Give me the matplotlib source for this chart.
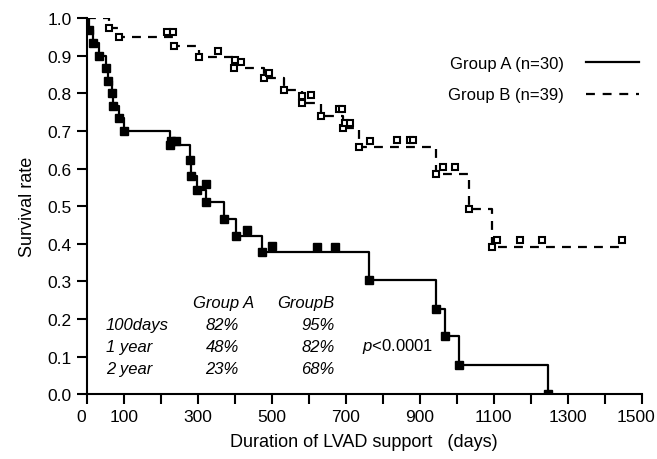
import numpy as np
import matplotlib
matplotlib.use('Agg')
import matplotlib.pyplot as plt
import matplotlib.transforms as mtransforms
from matplotlib.lines import Line2D

plt.rcParams['font.family'] = ['Liberation Sans', 'DejaVu Sans']
plt.rcParams['mathtext.fontset'] = 'custom'
plt.rcParams['mathtext.rm'] = 'Liberation Sans'
plt.rcParams['mathtext.it'] = 'Liberation Sans:italic'

# Group A (n=30): step times (days) and survival after each step
a_days = [0, 5, 18, 33, 51, 57, 67, 70, 88, 101, 225, 279, 283, 297, 322, 371, 403, 474, 762, 944, 969, 1005, 1245]
a_surv = [1.0, 0.967, 0.933, 0.900, 0.867, 0.833, 0.800, 0.767, 0.733, 0.700, 0.663, 0.622, 0.581,
          0.543, 0.510, 0.465, 0.421, 0.377, 0.303, 0.226, 0.155, 0.078, 0.0]
# group A censored marks
a_cens_days = [229, 240, 322, 432, 501, 621, 671]
a_cens_surv = [0.674, 0.674, 0.559, 0.437, 0.393, 0.392, 0.392]

# Group B (n=39)
b_days = [0, 60, 88, 236, 303, 399, 479, 533, 582, 632, 692, 735, 945, 1032, 1096, 1440]
b_surv = [1.0, 0.974, 0.951, 0.925, 0.897, 0.867, 0.840, 0.808, 0.774, 0.740, 0.709, 0.656,
          0.585, 0.492, 0.390, 0.390]
b_cens_days = [218, 234, 356, 401, 416, 493, 582, 605, 682, 691, 697, 711, 765, 837, 873, 882,
               963, 995, 1109, 1170, 1229, 1445]
b_cens_surv = [0.964, 0.964, 0.913, 0.889, 0.884, 0.853, 0.793, 0.796, 0.758, 0.758, 0.722, 0.722,
               0.674, 0.676, 0.676, 0.676, 0.605, 0.605, 0.41, 0.41, 0.41, 0.41]

x_ticks = list(range(0, 1501, 100))
x_labels = ['0', '100', '', '300', '', '500', '', '700', '', '900', '', '1100', '', '1300', '', '1500']
y_ticks = [0.0, 0.1, 0.2, 0.3, 0.4, 0.5, 0.6, 0.7, 0.8, 0.9, 1.0]

rows = ['100days', '1 year', '2 year']
rate_a = ['82%', '48%', '23%']
rate_b = ['95%', '82%', '68%']

fig = plt.figure(figsize=(6.57, 4.6), dpi=100)
ax = fig.add_axes([0.132, 0.141, 0.845, 0.8175])

dash = (0, (4, 3.2))
ax.step(a_days, a_surv, where='post', color='black', lw=1.6)
ax.plot(a_days[1:], a_surv[1:], 's', color='black', ms=5.3, lw=0)
ax.plot(a_cens_days, a_cens_surv, 's', color='black', ms=5.3, lw=0)

ax.step(b_days, b_surv, where='post', color='black', lw=1.6, linestyle=dash)
ax.plot(b_days[1:-1], b_surv[1:-1], 's', mfc='white', mec='black', mew=1.5, ms=4.5, lw=0)
ax.plot(b_cens_days, b_cens_surv, 's', mfc='white', mec='black', mew=1.5, ms=4.5, lw=0)

ax.set_xlim(0, 1500)
ax.set_ylim(0, 1.0)
ax.set_xticks(x_ticks)
ax.set_xticklabels(x_labels)
ax.set_yticks(y_ticks)
ax.set_yticklabels(['%.1f' % v for v in y_ticks])
for s in ['top', 'right']:
    ax.spines[s].set_visible(False)
for s in ['left', 'bottom']:
    ax.spines[s].set_linewidth(1.5)
ax.tick_params(direction='out', length=7, width=1.5, labelsize=12.5, pad=4)
ax.set_xlabel('Duration of LVAD support   (days)', fontsize=13, labelpad=6)
ax.set_ylabel('Survival rate', fontsize=13, labelpad=8)

# nudge first and last x tick labels left, as in the original
xlabs = ax.get_xticklabels()
shift = mtransforms.ScaledTranslation(-6 / 100, 0, fig.dpi_scale_trans)
for lab in (xlabs[0], xlabs[-1]):
    lab.set_transform(lab.get_transform() + shift)

# legend with line on the right
handles = [Line2D([], [], color='black', lw=1.6),
           Line2D([], [], color='black', lw=1.6, linestyle=(0, (4, 3.5)))]
ax.legend(handles, ['Group A (n=30)', 'Group B (n=39)'], loc='upper right',
          bbox_to_anchor=(0.995, 0.90), frameon=False, markerfirst=False, borderpad=0,
          borderaxespad=0, handlelength=3.2, handletextpad=1.3, labelspacing=1.0, fontsize=12)

# survival table
ax.text(287, 0.245, 'Group A', fontsize=12, style='italic', va='center')
ax.text(514, 0.245, 'GroupB', fontsize=12, style='italic', va='center')
for i, lab in enumerate(rows):
    yy = 0.184 - i * 0.058
    ax.text(51, yy, lab, fontsize=12, style='italic', va='center')
    ax.text(411, yy, rate_a[i], fontsize=12, style='italic', va='center', ha='right')
    ax.text(670, yy, rate_b[i], fontsize=12, style='italic', va='center', ha='right')
ax.text(743, 0.129, r'$p$<0.0001', fontsize=12, va='center')

fig.savefig('out.png', dpi=100)
